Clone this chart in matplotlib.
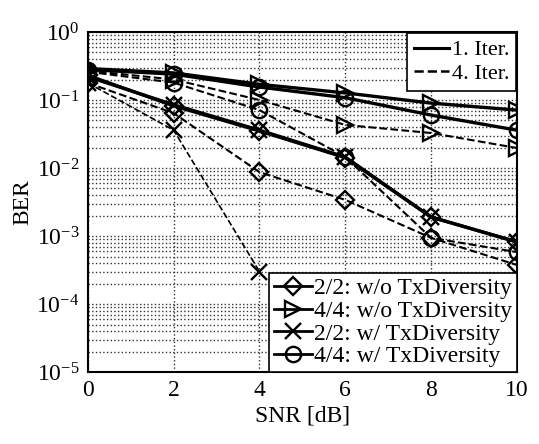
import matplotlib
matplotlib.use("Agg")
import matplotlib.pyplot as plt
from matplotlib.lines import Line2D
import numpy as np

plt.rcParams['font.family'] = ['Liberation Serif', 'DejaVu Serif']
plt.rcParams['mathtext.fontset'] = 'custom'
plt.rcParams['mathtext.rm'] = 'Liberation Serif'
plt.rcParams['mathtext.it'] = 'Liberation Serif:italic'

snr = [0, 2, 4, 6, 8, 10]

# 2/2 w/o TxDiversity (diamond)
ber_22_wo_it1 = [0.23, 0.082, 0.035, 0.0142, 0.0019, 0.00082]
ber_22_wo_it4 = [0.178, 0.064, 0.0087, 0.0034, 0.00094, 0.000375]
# 4/4 w/o TxDiversity (triangle)
ber_44_wo_it1 = [0.29, 0.25, 0.17, 0.127, 0.09, 0.071]
ber_44_wo_it4 = [0.27, 0.2, 0.1, 0.043, 0.0327, 0.0197]
# 2/2 w/ TxDiversity (x)
ber_22_w_it1 = [0.22, 0.085, 0.036, 0.0145, 0.0019, 0.00082]
ber_22_w_it4 = [0.178, 0.036, 0.0003]
snr_22_w_it4 = [0, 2, 4]
# 4/4 w/ TxDiversity (circle)
ber_44_w_it1 = [0.28, 0.24, 0.155, 0.108, 0.06, 0.036]
ber_44_w_it4 = [0.26, 0.18, 0.071, 0.0145, 0.00094, 0.00058]

legend_iter = ["1. Iter.", "4. Iter."]
legend_cfg = ["2/2: w/o TxDiversity", "4/4: w/o TxDiversity",
              "2/2: w/ TxDiversity", "4/4: w/ TxDiversity"]

fig = plt.figure(figsize=(5.39, 4.44), dpi=100)
ax = fig.add_axes([0.163, 0.162, 0.796, 0.766])

mk = dict(markerfacecolor='none', markeredgecolor='k', markeredgewidth=1.7, markersize=11, color='k')
lw1 = 2.4
lw4 = 1.5

ax.semilogy(snr, ber_22_wo_it1, '-', marker='D', lw=lw1, **{**mk, 'markersize': 9})
ax.semilogy(snr, ber_22_wo_it4, '--', marker='D', lw=lw4, **{**mk, 'markersize': 9})
ax.semilogy(snr, ber_44_wo_it1, '-', marker='>', lw=lw1, **mk)
ax.semilogy(snr, ber_44_wo_it4, '--', marker='>', lw=lw4, **mk)
ax.semilogy(snr, ber_22_w_it1, '-', marker='x', lw=lw1, **mk)
ax.semilogy(snr_22_w_it4, ber_22_w_it4, '--', marker='x', lw=1.2, **mk)
ax.semilogy(snr, ber_44_w_it1, '-', marker='o', lw=lw1, **mk)
ax.semilogy(snr, ber_44_w_it4, '--', marker='o', lw=lw4, **mk)

ax.set_xlim(0, 10)
ax.set_ylim(1e-5, 1)
ax.set_xticks(snr)
ax.set_yticks([1e-5, 1e-4, 1e-3, 1e-2, 1e-1, 1])
ax.grid(True, which='major', ls=':', color='0.2', lw=1.0)
ax.grid(True, which='minor', axis='y', ls=':', color='0.2', lw=1.0)
ax.tick_params(labelsize=17, direction='in', length=0, which='both', pad=6)
for s in ax.spines.values():
    s.set_linewidth(1.5)

ax.set_xlabel("SNR [dB]", fontsize=17, labelpad=3)
ax.set_ylabel("BER", fontsize=17, labelpad=2)

h1 = [Line2D([], [], color='k', ls='-', lw=2.2), Line2D([], [], color='k', ls='--', lw=1.8)]
leg1 = ax.legend(h1, legend_iter, loc='upper right', fontsize=16, frameon=True, fancybox=False,
                 edgecolor='k', handlelength=1.6, handletextpad=0.1, borderpad=0.3,
                 labelspacing=0.15, borderaxespad=0.05)
leg1.get_frame().set_linewidth(1.2)
leg1.get_frame().set_alpha(1)
ax.add_artist(leg1)

h2 = [Line2D([], [], color='k', ls='-', lw=2.0, marker='D', markersize=9, markerfacecolor='none', markeredgewidth=1.7),
      Line2D([], [], color='k', ls='-', lw=2.0, marker='>', markersize=11, markerfacecolor='none', markeredgewidth=1.7),
      Line2D([], [], color='k', ls='-', lw=2.0, marker='x', markersize=11, markerfacecolor='none', markeredgewidth=1.7),
      Line2D([], [], color='k', ls='-', lw=2.0, marker='o', markersize=11, markerfacecolor='none', markeredgewidth=1.7)]
leg2 = ax.legend(h2, legend_cfg, loc='lower right', fontsize=17, frameon=True, fancybox=False,
                 edgecolor='k', handlelength=1.6, handletextpad=0.1, borderpad=0.2,
                 labelspacing=0.05, borderaxespad=0.0)
leg2.get_frame().set_linewidth(1.2)
leg2.get_frame().set_alpha(1)

fig.savefig("out.png", dpi=100)
